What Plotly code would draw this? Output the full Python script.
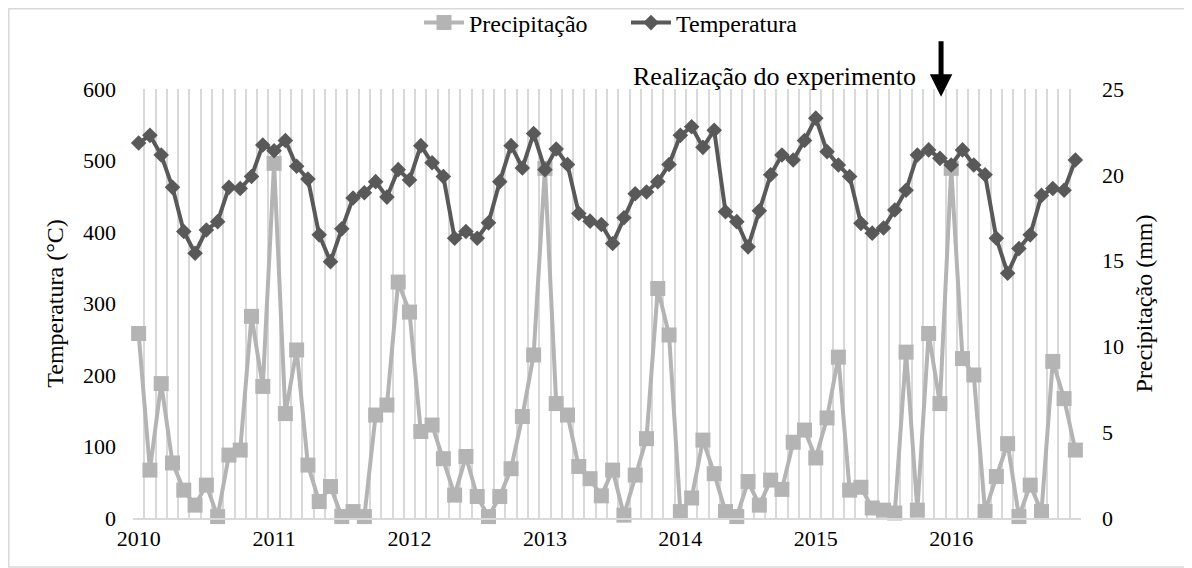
import plotly.graph_objects as go

years = ["2010", "2011", "2012", "2013", "2014", "2015", "2016"]
month_labels = [f"{y}-{m:02d}" for y in years for m in range(1, 13)]

precipitacao = [
    258, 67, 188, 77, 39, 18, 46, 2, 88, 95, 282, 184,
    496, 146, 235, 74, 23, 44, 2, 9, 2, 144, 158, 330,
    288, 121, 130, 83, 32, 86, 30, 2, 30, 69, 142, 228,
    489, 160, 144, 72, 55, 31, 67, 4, 60, 111, 321, 256,
    9, 28, 109, 62, 9, 2, 51, 18, 53, 40, 106, 123,
    84, 140, 225, 39, 43, 14, 11, 7, 232, 11, 258, 160,
    489, 223, 200, 9, 58, 104, 2, 46, 9, 219, 167, 95,
]

temperatura = [
    21.85, 22.3, 21.15, 19.27, 16.7, 15.43, 16.78, 17.27, 19.27, 19.2, 19.9, 21.74,
    21.4, 22.0, 20.5, 19.75, 16.5, 14.94, 16.85, 18.65, 18.95, 19.6, 18.7, 20.3,
    19.7, 21.7, 20.7, 19.9, 16.3, 16.7, 16.3, 17.2, 19.6, 21.7, 20.4, 22.4,
    20.3, 21.5, 20.6, 17.75, 17.3, 17.1, 16.0, 17.5, 18.9, 19.0, 19.6, 20.6,
    22.3, 22.8, 21.6, 22.6, 17.85, 17.27, 15.8, 17.9, 20.0, 21.15, 20.86, 22.0,
    23.3, 21.35, 20.57, 19.9, 17.17, 16.6, 16.9, 17.95, 19.1, 21.15, 21.45, 20.96,
    20.57, 21.45, 20.57, 20.0, 16.3, 14.26, 15.7, 16.5, 18.8, 19.2, 19.1, 20.86,
]

left_ticks = [0, 100, 200, 300, 400, 500, 600]
right_ticks = [0, 5, 10, 15, 20, 25]

x_idx = list(range(len(month_labels)))
year_pos = [month_labels.index(f"{y}-01") for y in years]
arrow_month = month_labels.index("2015-12")

FONT = "Liberation Serif, Times New Roman, serif"
GRID = "#d9d9d9"

fig = go.Figure()
fig.add_trace(go.Scatter(
    x=x_idx, y=precipitacao, name="Precipitação", mode="lines+markers",
    line=dict(color="#b4b4b4", width=4),
    marker=dict(symbol="square", size=15, color="#b4b4b4"),
    yaxis="y", cliponaxis=False,
))
fig.add_trace(go.Scatter(
    x=x_idx, y=temperatura, name="Temperatura", mode="lines+markers",
    line=dict(color="#595959", width=4),
    marker=dict(symbol="diamond", size=12, color="#595959"),
    yaxis="y2", cliponaxis=False,
))

# the page body adds an 8px offset; compensate so the plot lands where intended
OFF = 8
SW, SH = 1192, 568                 # screen size
PL, PR, PT, PB = 133, 1081, 89, 518  # plot area on screen
W, H = SW - OFF, SH - OFF
L, T = PL - OFF, PT - OFF
R, B = SW - PR, SH - PB
pw, ph = PR - PL, PB - PT

def px_to_paper(px, py):
    return (px - PL) / pw, (PB - py) / ph

lx, ly = px_to_paper(419, 23)

fig.update_layout(
    width=W, height=H,
    margin=dict(l=L, r=R, t=T, b=B, autoexpand=False),
    paper_bgcolor="white", plot_bgcolor="white",
    font=dict(family=FONT, size=22, color="#000000"),
    showlegend=True,
    legend=dict(orientation="h", x=lx, xanchor="left", y=ly, yanchor="middle",
                font=dict(size=24, family=FONT), bgcolor="rgba(0,0,0,0)",
                itemwidth=40, entrywidth=152, tracegroupgap=0),
    xaxis=dict(
        range=[-0.5, len(month_labels) - 0.5],
        tickmode="array", tickvals=year_pos, ticktext=years,
        showgrid=False, zeroline=False,
        showline=True, linecolor=GRID, linewidth=2,
        ticks="", ticklabelstandoff=0, automargin=False,
        tickfont=dict(size=22, family=FONT),
        minor=dict(tick0=-0.5, dtick=1, showgrid=True, gridcolor=GRID, gridwidth=2, ticks=""),
    ),
    yaxis=dict(
        range=[0, 600], tickvals=left_ticks,
        showgrid=False, zeroline=False, showline=False, ticks="",
        ticklabelstandoff=16, automargin=False,
        title=dict(text="Temperatura (°C)", font=dict(size=24, family=FONT), standoff=12),
        tickfont=dict(size=22, family=FONT),
    ),
    yaxis2=dict(
        range=[0, 25], tickvals=right_ticks, overlaying="y", side="right",
        showgrid=False, zeroline=False, showline=False, ticks="",
        ticklabelstandoff=20, automargin=False,
        title=dict(text="Precipitação (mm)", font=dict(size=24, family=FONT), standoff=12),
        tickfont=dict(size=22, family=FONT),
    ),
)

# outer border
x0, y0 = px_to_paper(8.8, 8.8)
x1, y1 = px_to_paper(1190, 567)
fig.add_shape(type="rect", xref="paper", yref="paper", x0=x0, y0=y1, x1=x1, y1=y0,
              line=dict(color=GRID, width=1.5), fillcolor="rgba(0,0,0,0)", layer="below")

# annotation text
ax_, ay_ = px_to_paper(918, 76)
fig.add_annotation(xref="paper", yref="paper", x=ax_, y=ay_, xanchor="right", yanchor="middle",
                   text="Realização do experimento", showarrow=False,
                   font=dict(size=26, family=FONT, color="black"))
# arrow
fig.add_annotation(xref="x", yref="y", x=arrow_month + 0.1, y=589, text="",
                   showarrow=True, ax=0, ay=-57, axref="pixel", ayref="pixel",
                   arrowhead=2, arrowsize=0.9, arrowwidth=5, arrowcolor="black")

fig.write_html("out.html")
